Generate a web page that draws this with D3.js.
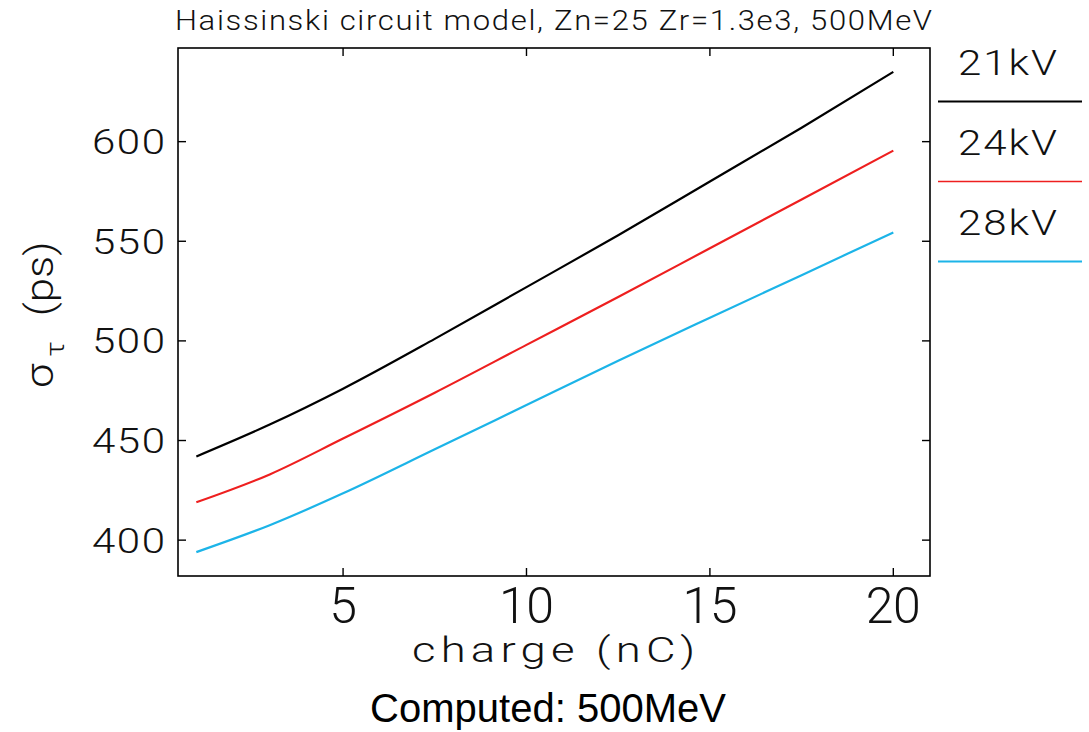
<!DOCTYPE html>
<html>
<head>
<meta charset="utf-8">
<script src="https://cdn.jsdelivr.net/npm/d3@7"></script>
<style>
  html, body { margin: 0; padding: 0; background: #fff; }
  svg { display: block; }
  .thin { font-family: Roboto, "DejaVu Sans", sans-serif; font-weight: 300; fill: #111; }
</style>
</head>
<body>
<svg id="chart" width="1089" height="732"></svg>
<script>
// Bunch length vs. charge for three RF voltages
const charge   = [1, 3, 5, 7.5, 10, 12.5, 15, 17.5, 20];
const sigma21  = [442, 458, 476, 501, 527, 553, 580, 607, 635];
const sigma24  = [419, 433, 451, 474, 498, 522, 546.5, 571, 595.5];
const sigma28  = [394, 407.5, 423.5, 445.6, 467.8, 490, 511.6, 533, 554.4];
const seriesNames  = ["21kV", "24kV", "28kV"];
const seriesColors = ["#000000", "#ee1f1f", "#1cb4e8"];
const xTicks = [5, 10, 15, 20];
const yTicks = [400, 450, 500, 550, 600];

const titleText = "Haissinski circuit model, Zn=25 Zr=1.3e3, 500MeV";
const xLabel = "charge (nC)";
const caption = "Computed: 500MeV";

const svg = d3.select("#chart");
const frame = { left: 178, right: 930, top: 48, bottom: 576 };

const x = d3.scaleLinear().domain([0.5, 21]).range([frame.left, frame.right]);
const y = d3.scaleLinear().domain([382, 647]).range([frame.bottom, frame.top]);

// Light, widened lettering in the style of plotting-package stroke fonts.
// (px, py) is the start (or centre for "middle") of the baseline;
// width is the final on-screen width of the string.
function wideText(parent, px, py, str, size, sx, width, anchor) {
  const g = parent.append("g").attr("transform", `translate(${px},${py}) scale(${sx},1)`);
  const t = g.append("text").attr("class", "thin")
    .attr("font-size", size)
    .attr("text-anchor", anchor || "start")
    .text(str);
  if (width) t.attr("textLength", width / sx).attr("lengthAdjust", "spacing");
  return t;
}

// plot frame
svg.append("rect")
  .attr("x", frame.left).attr("y", frame.top)
  .attr("width", frame.right - frame.left).attr("height", frame.bottom - frame.top)
  .attr("fill", "none").attr("stroke", "#000").attr("stroke-width", 1.6);

// inward ticks on all four sides
const tickLen = 8;
const tickG = svg.append("g").attr("stroke", "#000").attr("stroke-width", 1.4);
xTicks.forEach(t => {
  tickG.append("line").attr("x1", x(t)).attr("x2", x(t))
    .attr("y1", frame.bottom).attr("y2", frame.bottom - tickLen);
  tickG.append("line").attr("x1", x(t)).attr("x2", x(t))
    .attr("y1", frame.top).attr("y2", frame.top + tickLen);
});
yTicks.forEach(t => {
  tickG.append("line").attr("y1", y(t)).attr("y2", y(t))
    .attr("x1", frame.left).attr("x2", frame.left + tickLen);
  tickG.append("line").attr("y1", y(t)).attr("y2", y(t))
    .attr("x1", frame.right).attr("x2", frame.right - tickLen);
});

// tick labels
xTicks.forEach(t => {
  const s = String(t);
  wideText(svg, x(t), 623, s, 50, 1.0, s.length === 1 ? 24 : 55, "middle");
});
yTicks.forEach(t => {
  wideText(svg, 92, y(t) + 12.5, String(t), 35, 1.2, 73, "start");
});

// curves
const line = d3.line()
  .x(d => x(d[0])).y(d => y(d[1]))
  .curve(d3.curveMonotoneX);
[sigma21, sigma24, sigma28].forEach((vals, i) => {
  svg.append("path")
    .datum(charge.map((c, k) => [c, vals[k]]))
    .attr("fill", "none")
    .attr("stroke", seriesColors[i])
    .attr("stroke-width", 2.2)
    .attr("d", line);
});

// title
wideText(svg, 175, 30, titleText, 27, 1.15, 757, "start");

// x axis title
wideText(svg, 412, 662, xLabel, 35, 1.3, 283, "start");

// y axis title: sigma with tau subscript, rotated
const yl = svg.append("g").attr("transform", "translate(53,388) rotate(-90) scale(1.15,1)")
  .append("text").attr("class", "thin")
  .attr("font-size", 38);
yl.append("tspan").text("σ");
yl.append("tspan").attr("font-size", 26).attr("dy", 11).attr("dx", 6).text("τ");
yl.append("tspan").attr("dy", -11).attr("dx", 22).text("(ps)");

// legend on the right
seriesNames.forEach((name, i) => {
  const base = 75 + i * 80;
  wideText(svg, 958, base, name, 35, 1.2, 99, "start");
  svg.append("line")
    .attr("x1", 938).attr("x2", 1082)
    .attr("y1", base + 26.5).attr("y2", base + 26.5)
    .attr("stroke", seriesColors[i]).attr("stroke-width", i === 1 ? 1.6 : 2.2);
});

// caption beneath the chart
svg.append("text")
  .attr("x", 548).attr("y", 722)
  .attr("text-anchor", "middle")
  .attr("font-family", "'Liberation Sans', Arial, sans-serif")
  .attr("font-size", 40)
  .attr("fill", "#000")
  .text(caption);
</script>
</body>
</html>
